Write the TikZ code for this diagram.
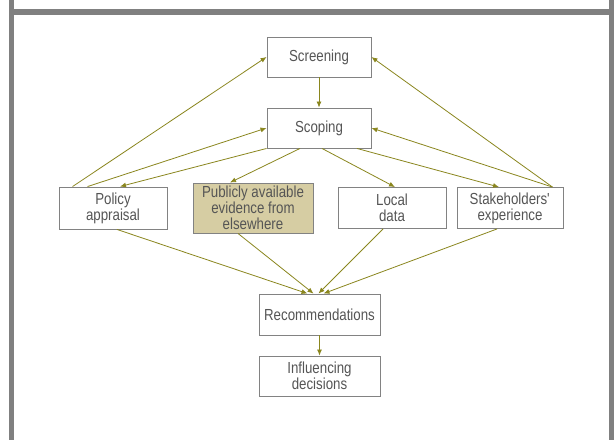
\documentclass[tikz,border=0pt]{standalone}
\usepackage{fontspec}
\setmainfont{Liberation Sans}[FakeStretch=0.83]
\usetikzlibrary{arrows.meta}
\usetikzlibrary{positioning}

\definecolor{framegrey}{RGB}{128,128,128}
\definecolor{boxgrey}{RGB}{130,130,130}
\definecolor{txtgrey}{RGB}{85,85,85}
\definecolor{olivearr}{RGB}{138,134,30}
\definecolor{tanfill}{RGB}{214,205,163}

\tikzset{
  stage/.style={draw=boxgrey, line width=0.9pt, fill=white, inner sep=0pt,
    align=center, text=txtgrey, font=\fontsize{16}{16}\selectfont},
  arr/.style={draw=olivearr, line width=0.8pt,
    -{Latex[length=6pt,width=5pt]}},
}

\begin{document}
\begin{tikzpicture}[x=1pt,y=-1pt]
\useasboundingbox (0,0) rectangle (614,440);
\fill[white] (0,0) rectangle (614,440);
% frame
\fill[framegrey] (9,0) rectangle (14,440);
\fill[framegrey] (609,0) rectangle (614,440);
\fill[framegrey] (9,9) rectangle (614,15);

% nodes
\node[stage, minimum width=104, minimum height=40] (scr) at (319,57) {Screening};
\node[stage, minimum width=104, minimum height=40] (scp) at (319,128) {Scoping};
\node[stage, minimum width=108, minimum height=42] (pol) at (113,208) {Policy\\appraisal};
\node[stage, fill=tanfill, minimum width=120, minimum height=50] (pub) at (253,208) {Publicly available\\evidence from\\elsewhere};
\node[stage, minimum width=108, minimum height=41] (loc) at (392,208) {Local\\data};
\node[stage, minimum width=106, minimum height=41] (stk) at (510,208) {Stakeholders\textquotesingle\\experience};
\node[stage, minimum width=121, minimum height=41] (rec) at (319.5,314.5) {Recommendations};
\node[stage, minimum width=121, minimum height=40] (inf) at (319.5,376) {Influencing\\decisions};

% connectors
\draw[arr] (scr.south) -- (scp.north);
\draw[arr] ([xshift=14pt]pol.north west) -- (scr.west);
\draw[arr] ([xshift=29pt]pol.north west) -- (scp.west);
\draw[arr] (scp.south west) -- ([xshift=7pt]pol.north);
\draw[arr] ([xshift=-19pt]scp.south) -- ([xshift=-23pt]pub.north);
\draw[arr] ([xshift=3pt]scp.south) -- ([xshift=3pt]loc.north);
\draw[arr] ([xshift=38pt]scp.south) -- ([xshift=-11pt]stk.north);
\draw[arr] ([xshift=-11pt]stk.north east) -- (scp.east);
\draw[arr] ([xshift=-11pt]stk.north east) -- (scr.east);
\draw[arr] ([xshift=4pt]pol.south) -- ([xshift=-12pt]rec.north);
\draw[arr] ([xshift=-15pt]pub.south) -- ([xshift=-6pt]rec.north);
\draw[arr] ([xshift=-9pt]loc.south) -- ([xshift=-1pt]rec.north);
\draw[arr] ([xshift=-13pt]stk.south) -- ([xshift=4pt]rec.north);
\draw[arr] (rec.south) -- (inf.north);
\end{tikzpicture}
\end{document}
